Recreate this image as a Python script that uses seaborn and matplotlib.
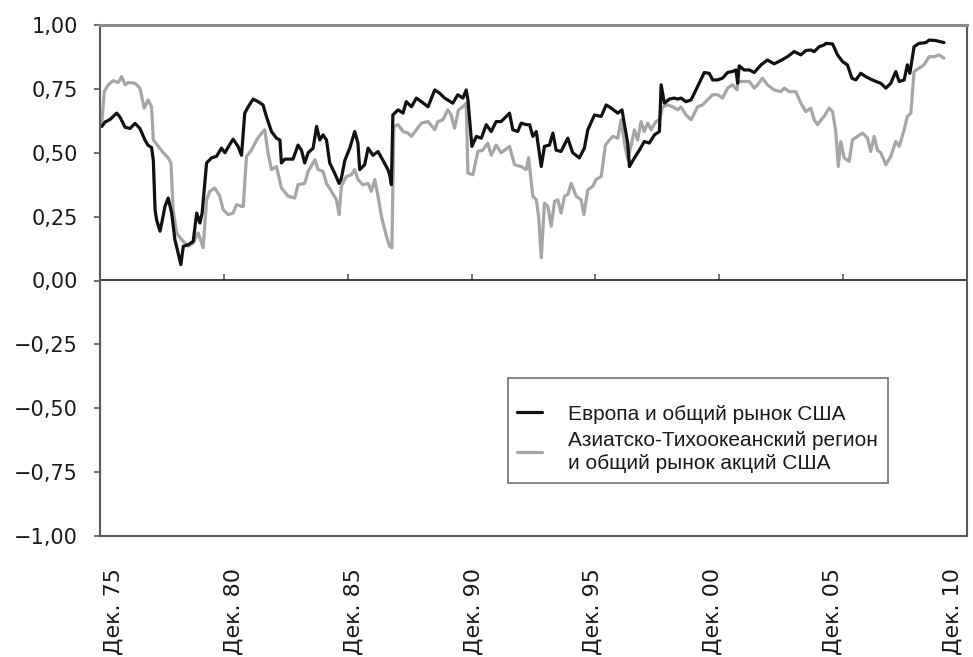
import matplotlib
matplotlib.use("Agg")
import matplotlib.pyplot as plt
import matplotlib.ticker as mticker
import seaborn as sns
import pandas as pd

# Rolling correlation with the broad US market, by date (decimal years, Dec 1975 = 1975.917)
europe_dates = [
    1975.99, 1976.12, 1976.32, 1976.59, 1976.72, 1976.93, 1977.13, 1977.33, 1977.53, 1977.73,
    1977.85, 1978.00, 1978.07, 1978.14, 1978.20, 1978.34, 1978.41, 1978.54, 1978.67, 1978.81,
    1978.94, 1979.07, 1979.18, 1979.28, 1979.48, 1979.68, 1979.82, 1979.95, 1980.04, 1980.22,
    1980.42, 1980.62, 1980.82, 1980.96, 1981.09, 1981.29, 1981.49, 1981.63, 1981.76, 1981.90,
    1982.10, 1982.30, 1982.50, 1982.64, 1982.84, 1983.04, 1983.18, 1983.24, 1983.38, 1983.71,
    1983.91, 1984.05, 1984.18, 1984.32, 1984.52, 1984.66, 1984.79, 1984.92, 1985.06, 1985.19,
    1985.39, 1985.57, 1985.66, 1985.80, 1986.00, 1986.20, 1986.33, 1986.40, 1986.60, 1986.74,
    1986.94, 1987.14, 1987.34, 1987.54, 1987.61, 1987.68, 1987.74, 1987.95, 1988.15, 1988.28,
    1988.49, 1988.69, 1988.89, 1989.16, 1989.43, 1989.63, 1989.83, 1990.16, 1990.36, 1990.57,
    1990.70, 1990.77, 1990.93, 1991.11, 1991.31, 1991.51, 1991.71, 1991.91, 1992.11, 1992.45,
    1992.58, 1992.78, 1992.92, 1993.12, 1993.26, 1993.39, 1993.53, 1993.73, 1993.86, 1994.06,
    1994.20, 1994.33, 1994.53, 1994.80, 1995.00, 1995.27, 1995.47, 1995.61, 1995.88, 1996.15,
    1996.35, 1996.55, 1996.82, 1996.99, 1997.09, 1997.22, 1997.29, 1997.49, 1997.69, 1997.89,
    1998.09, 1998.30, 1998.50, 1998.57, 1998.70, 1998.90, 1999.10, 1999.24, 1999.37, 1999.57,
    1999.78, 2000.04, 2000.31, 2000.51, 2000.65, 2000.85, 2001.05, 2001.25, 2001.45, 2001.59,
    2001.66, 2001.72, 2001.92, 2002.13, 2002.33, 2002.60, 2002.86, 2003.13, 2003.40, 2003.67,
    2003.94, 2004.21, 2004.41, 2004.61, 2004.75, 2004.95, 2005.15, 2005.22, 2005.49, 2005.69,
    2005.89, 2006.09, 2006.27, 2006.43, 2006.63, 2006.83, 2007.03, 2007.24, 2007.44, 2007.64,
    2007.84, 2008.04, 2008.18, 2008.38, 2008.51, 2008.61, 2008.78, 2008.98, 2009.25, 2009.39,
    2009.66, 2009.99,
]
europe_corr = [
    0.603, 0.620, 0.630, 0.655, 0.640, 0.600, 0.595, 0.615, 0.595, 0.550,
    0.530, 0.520, 0.470, 0.277, 0.238, 0.193, 0.225, 0.290, 0.323, 0.264,
    0.160, 0.108, 0.062, 0.134, 0.140, 0.153, 0.264, 0.225, 0.264, 0.460,
    0.480, 0.486, 0.518, 0.500, 0.522, 0.553, 0.525, 0.490, 0.655, 0.680,
    0.710, 0.700, 0.687, 0.640, 0.583, 0.557, 0.550, 0.460, 0.475, 0.475,
    0.530, 0.510, 0.460, 0.500, 0.518, 0.603, 0.550, 0.570, 0.550, 0.460,
    0.420, 0.380, 0.400, 0.470, 0.518, 0.583, 0.538, 0.434, 0.453, 0.518,
    0.490, 0.505, 0.470, 0.434, 0.414, 0.375, 0.648, 0.668, 0.655, 0.700,
    0.680, 0.714, 0.700, 0.680, 0.746, 0.733, 0.714, 0.694, 0.727, 0.714,
    0.746, 0.707, 0.525, 0.564, 0.557, 0.610, 0.583, 0.622, 0.622, 0.655,
    0.590, 0.583, 0.616, 0.610, 0.610, 0.564, 0.583, 0.446, 0.525, 0.530,
    0.577, 0.510, 0.505, 0.557, 0.500, 0.480, 0.518, 0.590, 0.648, 0.642,
    0.687, 0.675, 0.655, 0.668, 0.610, 0.538, 0.446, 0.480, 0.510, 0.544,
    0.538, 0.570, 0.583, 0.766, 0.694, 0.710, 0.714, 0.710, 0.714, 0.700,
    0.707, 0.759, 0.814, 0.811, 0.785, 0.785, 0.792, 0.814, 0.818, 0.824,
    0.772, 0.840, 0.824, 0.824, 0.814, 0.844, 0.863, 0.848, 0.861, 0.876,
    0.896, 0.883, 0.900, 0.902, 0.896, 0.915, 0.922, 0.928, 0.926, 0.883,
    0.857, 0.844, 0.792, 0.785, 0.811, 0.798, 0.788, 0.779, 0.772, 0.753,
    0.772, 0.818, 0.779, 0.785, 0.844, 0.811, 0.915, 0.928, 0.931, 0.941,
    0.939, 0.931,
]

asia_dates = [
    1975.99, 1976.09, 1976.25, 1976.45, 1976.65, 1976.79, 1976.93, 1977.06, 1977.33, 1977.53,
    1977.70, 1977.86, 1978.00, 1978.07, 1978.27, 1978.47, 1978.67, 1978.78, 1978.87, 1979.01,
    1979.21, 1979.48, 1979.68, 1979.88, 1980.08, 1980.22, 1980.35, 1980.55, 1980.75, 1980.89,
    1981.09, 1981.29, 1981.43, 1981.63, 1981.70, 1981.83, 1982.03, 1982.24, 1982.44, 1982.57,
    1982.70, 1982.84, 1983.04, 1983.24, 1983.51, 1983.78, 1983.91, 1984.18, 1984.32, 1984.59,
    1984.72, 1984.92, 1985.06, 1985.26, 1985.46, 1985.57, 1985.66, 1985.86, 1986.07, 1986.20,
    1986.33, 1986.53, 1986.74, 1986.87, 1987.01, 1987.14, 1987.28, 1987.48, 1987.61, 1987.70,
    1987.78, 1987.95, 1988.15, 1988.35, 1988.49, 1988.69, 1988.89, 1989.16, 1989.43, 1989.56,
    1989.76, 1989.96, 1990.09, 1990.23, 1990.39, 1990.57, 1990.70, 1990.77, 1990.97, 1991.17,
    1991.37, 1991.57, 1991.71, 1991.91, 1992.11, 1992.45, 1992.65, 1992.92, 1993.12, 1993.22,
    1993.39, 1993.53, 1993.63, 1993.73, 1993.86, 1994.00, 1994.13, 1994.27, 1994.40, 1994.53,
    1994.67, 1994.80, 1994.94, 1995.14, 1995.34, 1995.45, 1995.61, 1995.81, 1995.94, 1996.15,
    1996.32, 1996.48, 1996.62, 1996.82, 1996.95, 1997.09, 1997.22, 1997.36, 1997.49, 1997.62,
    1997.76, 1997.89, 1998.03, 1998.16, 1998.36, 1998.50, 1998.63, 1998.83, 1999.03, 1999.24,
    1999.37, 1999.57, 1999.78, 2000.04, 2000.24, 2000.44, 2000.65, 2000.85, 2001.05, 2001.25,
    2001.45, 2001.63, 2001.66, 2001.86, 2002.13, 2002.33, 2002.46, 2002.66, 2002.86, 2003.13,
    2003.40, 2003.54, 2003.74, 2004.01, 2004.21, 2004.41, 2004.61, 2004.75, 2004.88, 2005.08,
    2005.15, 2005.35, 2005.49, 2005.62, 2005.72, 2005.82, 2005.96, 2006.16, 2006.29, 2006.49,
    2006.70, 2006.90, 2007.03, 2007.17, 2007.30, 2007.44, 2007.64, 2007.84, 2008.04, 2008.18,
    2008.38, 2008.51, 2008.65, 2008.78, 2008.98, 2009.18, 2009.39, 2009.59, 2009.79, 2009.99,
]
asia_corr = [
    0.616, 0.740, 0.766, 0.782, 0.775, 0.798, 0.766, 0.775, 0.772, 0.753,
    0.675, 0.707, 0.680, 0.550, 0.525, 0.500, 0.480, 0.460, 0.277, 0.186,
    0.160, 0.134, 0.147, 0.186, 0.128, 0.316, 0.349, 0.362, 0.330, 0.277,
    0.258, 0.264, 0.297, 0.290, 0.290, 0.486, 0.510, 0.550, 0.577, 0.590,
    0.500, 0.434, 0.446, 0.362, 0.330, 0.323, 0.375, 0.380, 0.427, 0.473,
    0.434, 0.427, 0.380, 0.349, 0.316, 0.258, 0.369, 0.407, 0.414, 0.434,
    0.395, 0.375, 0.380, 0.349, 0.395, 0.330, 0.250, 0.173, 0.134, 0.128,
    0.603, 0.610, 0.583, 0.577, 0.564, 0.590, 0.616, 0.622, 0.590, 0.622,
    0.629, 0.668, 0.648, 0.596, 0.668, 0.680, 0.694, 0.420, 0.414, 0.505,
    0.510, 0.538, 0.490, 0.530, 0.500, 0.525, 0.453, 0.446, 0.434, 0.480,
    0.330, 0.316, 0.245, 0.089, 0.303, 0.290, 0.212, 0.310, 0.316, 0.264,
    0.330, 0.336, 0.380, 0.330, 0.316, 0.258, 0.355, 0.369, 0.395, 0.407,
    0.530, 0.550, 0.564, 0.557, 0.629, 0.538, 0.473, 0.530, 0.590, 0.550,
    0.622, 0.583, 0.616, 0.590, 0.622, 0.629, 0.680, 0.687, 0.680, 0.668,
    0.680, 0.648, 0.629, 0.680, 0.687, 0.707, 0.727, 0.727, 0.714, 0.753,
    0.766, 0.746, 0.779, 0.779, 0.779, 0.753, 0.766, 0.792, 0.766, 0.746,
    0.739, 0.753, 0.739, 0.739, 0.694, 0.661, 0.675, 0.629, 0.610, 0.635,
    0.642, 0.675, 0.661, 0.583, 0.446, 0.544, 0.480, 0.466, 0.550, 0.564,
    0.577, 0.557, 0.505, 0.564, 0.510, 0.500, 0.453, 0.486, 0.544, 0.525,
    0.590, 0.642, 0.655, 0.818, 0.831, 0.844, 0.876, 0.876, 0.883, 0.870,
]

series_labels = [
    "Европа и общий рынок США",
    "Азиатско-Тихоокеанский регион\nи общий рынок акций США",
]
tick_years = [1975.917, 1980.917, 1985.917, 1990.917, 1995.917, 2000.917, 2005.917, 2010.917]
tick_labels = ["Дек. 75", "Дек. 80", "Дек. 85", "Дек. 90", "Дек. 95", "Дек. 00", "Дек. 05", "Дек. 10"]
y_ticks = [-1.0, -0.75, -0.5, -0.25, 0.0, 0.25, 0.5, 0.75, 1.0]

sns.set_theme(style="white")
plt.rcParams["font.family"] = ["DejaVu Sans"]

frame_color = "#5a5a5a"
black_line = "#111111"
gray_line = "#a6a6a6"
text_color = "#1a1a1a"

fig = plt.figure(figsize=(9.73, 6.57), dpi=100)
ax = fig.add_axes([100 / 973, 1 - 536 / 657, 867 / 973, 511 / 657])

europe = pd.DataFrame({"date": europe_dates, "corr": europe_corr})
asia = pd.DataFrame({"date": asia_dates, "corr": asia_corr})

sns.lineplot(data=asia, x="date", y="corr", ax=ax, color=gray_line, lw=2.3,
             label=series_labels[1], estimator=None, sort=False)
sns.lineplot(data=europe, x="date", y="corr", ax=ax, color=black_line, lw=2.3,
             label=series_labels[0], estimator=None, sort=False)

ax.set_xlim(tick_years[0], tick_years[-1])
ax.set_ylim(-1.0, 1.0)
ax.set_xlabel("")
ax.set_ylabel("")

# y axis: comma decimals, true minus sign
ax.set_yticks(y_ticks)
ax.yaxis.set_major_formatter(
    mticker.FuncFormatter(lambda v, _: f"{v:.2f}".replace(".", ",").replace("-", "\u2212"))
)
ax.tick_params(axis="y", which="major", left=True, direction="out", length=4, width=1.2,
               color=frame_color, labelsize=15, pad=12, labelcolor=text_color)

# month labels sit below the frame, spread slightly tighter than the ticks
span = tick_years[-1] - tick_years[0]
label_years = [tick_years[0] + 0.56 + (t - tick_years[0]) * (span - 1.15) / span for t in tick_years]
ax.set_xticks(label_years)
ax.set_xticklabels(tick_labels, rotation=90, va="top", ha="center")
ax.tick_params(axis="x", bottom=True, length=0, labelsize=16, pad=23, labelcolor=text_color)

# tick marks hang from the zero line
zero_axis = ax.secondary_xaxis(0.5)
zero_axis.set_xticks(tick_years)
zero_axis.xaxis.set_major_formatter(mticker.NullFormatter())
zero_axis.tick_params(axis="x", direction="out", length=4, width=1.2, color=frame_color)
zero_axis.spines["bottom"].set_color(frame_color)
zero_axis.spines["bottom"].set_linewidth(1.5)

for side in ["left", "right", "top", "bottom"]:
    ax.spines[side].set_visible(True)
    ax.spines[side].set_color(frame_color)
    ax.spines[side].set_linewidth(1.5)
ax.spines["top"].set_color("#8a8a8a")
ax.spines["top"].set_linewidth(2.2)

handles, labels = ax.get_legend_handles_labels()
order = [labels.index(series_labels[0]), labels.index(series_labels[1])]
leg = ax.legend([handles[i] for i in order], [labels[i] for i in order],
                loc="upper left", bbox_to_anchor=((508 - 100) / 867, (536 - 378) / 511),
                frameon=True, fancybox=False, shadow=False,
                prop={"family": "Liberation Sans", "size": 15},
                title=" ", title_fontsize=7,
                handlelength=1.2, handletextpad=1.25, labelspacing=0.35,
                borderpad=0.45, borderaxespad=0)
leg.get_frame().set_edgecolor(frame_color)
leg.get_frame().set_linewidth(1.3)
for text in leg.get_texts():
    text.set_color(text_color)
    text.set_linespacing(1.3)
for line in leg.get_lines():
    line.set_linewidth(2.3)

fig.savefig("out.png", dpi=100, facecolor="white")
